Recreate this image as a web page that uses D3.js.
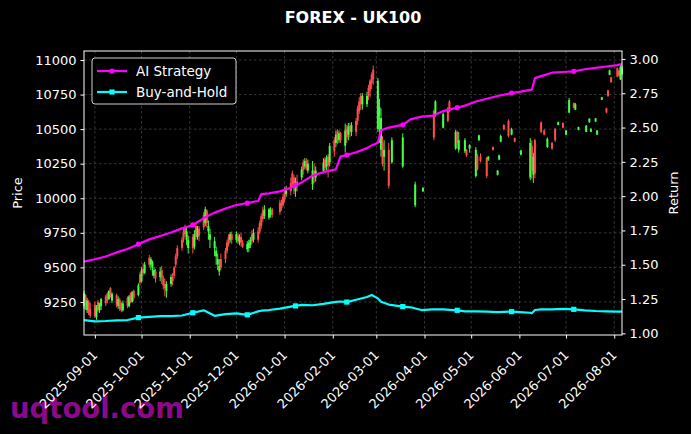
<!DOCTYPE html>
<html>
<head>
<meta charset="utf-8">
<script src="https://cdn.jsdelivr.net/npm/d3@7"></script>
<style>
  html, body { margin: 0; padding: 0; background: #000; }
  svg { display: block; font-family: 'DejaVu Sans', sans-serif; }
</style>
</head>
<body>
<svg id="chart"></svg>
<script>
// ---- data ----
const firstDay = '2025-08-25'
const lastDay = '2026-08-06'

// daily candles (weekdays), null = no bar drawn
const opens = [9220,9300,9190,9250,9200, 9230,9140,9250,9190,9220, 9290,9310,9270,9350,9260, 9300,9220,9265,9240,9190,
  9280,9220,9310,9250,9330, 9300,9450,9400,9490,9460, 9570,9520,9500,9440,9470, 9430,9480,9420,9380,9330,
  9380,9430,9500,9580,9640, 9700,9760,9790,9700,9640, 9720,9650,9800,9720,9780, 9880,9820,9910,9760,9700,
  9640,9580,9520,9470,9560, 9620,9680,9720,9700,9740, 9700,9730,9680,9720,9680, 9630,9640,9660,9740,9700,
  9760,9820,9870,9910,9870, 9860,9880,9920,null,null, 9970,9960,10010,10050,10030, 10110,10180,10150,10050,10120,
  10150,10260,10230,10270,10200, 10100,10200,10150,null,null, 10200,10280,10230,10300,10260, 10420,10400,10480,10420,10470,
  10380,10500,10460,10520,10480, 10560,10650,10700,10740,10680, 10680,10800,10850,10890,10930, 10500,10600,10350,10400,10300,
  10350,null,10260,null,null, null,null,10230,null,null, null,null,null,9950,null, null,10050,null,null,null,
  null,10630,10600,null,null, 10510,null,null,10650,10700, null,10360,10480,10350,null, 10340,10350,null,10360,null,
  10160,10310,10420,10300,null, 10290,10280,null,null,10370, 10170,10280,10410,null,10530, 10560,null,10460,null,10435,
  null,10315,null,null,null, 10150,10380,10170,10420,null, 10550,null,10490,null,10370, 10400,null,10500,null,10530,
  10545,null,10460,null,10620, 10690,10640,null,10495,null, null,10480,null,10550,10480, 10555,10460,null,null,10712,
  10650,10780,10892,10875,null, 10940,10920,10860,10900]
const highs = [9330,9305,9280,9265,9243, 9250,9228,9265,9243,9280, 9300,9320,9335,9357,9320, 9310,9290,9280,9250,9260,
  9290,9300,9320,9330,9340, 9385,9465,9500,9530,9540, 9590,9575,9550,9500,9490, 9500,9510,9440,9420,9400,
  9450,9460,9510,9600,9660, 9720,9780,9810,9790,9730, 9740,9770,9820,9800,9800, 9900,9940,9920,9840,9780,
  9720,9650,9600,9560,9600, 9640,9700,9740,9755,9760, 9760,9750,9740,9750,9700, 9690,9700,9720,9770,9780,
  9790,9840,9890,9940,9950, 9930,9935,9930,null,null, 9990,9990,10030,10080,10090, 10150,10200,10170,10150,10170,
  10230,10280,10290,10290,10280, 10270,10250,10230,null,null, 10290,10300,10310,10320,10400, 10440,10490,10500,10490,10480,
  10540,10530,10545,10545,10550, 10580,10670,10730,10760,10760, 10770,10820,10860,10910,10960, 10870,10720,10650,10450,10420,
  10400,null,10440,null,null, null,null,10470,null,null, null,null,null,10120,null, null,10080,null,null,null,
  null,10640,10710,null,null, 10620,null,null,10660,10711, null,10494,10490,10480,null, 10435,10355,null,10390,null,
  10370,10320,10460,10325,null, 10300,10305,null,null,10375, 10205,10315,10460,null,10535, 10570,null,10510,null,10440,
  null,10350,null,null,null, 10435,10420,10330,10430,null, 10555,null,10500,null,10440, 10407,null,10508,null,10555,
  10548,null,10494,null,10725, 10692,10690,null,10518,null, null,10530,null,10580,10508, 10580,10494,null,null,10733,
  10655,10785,10930,10878,null, 10945,10930,10965,10960]
const lows = [9200,9192,9170,9155,9134, 9135,9120,9178,9170,9192, 9220,9240,9265,9280,9243, 9210,9200,9185,9175,9180,
  9205,9210,9240,9245,9260, 9290,9370,9390,9440,9450, 9500,9480,9440,9420,9390, 9400,9380,9340,9290,9280,
  9360,9370,9420,9500,9560, 9620,9680,9720,9660,9600, 9600,9630,9700,9700,9690, 9770,9800,9790,9700,9640,
  9580,9520,9480,9440,9480, 9530,9600,9650,9680,9670, 9680,9670,9660,9650,9640, 9610,9610,9640,9670,9680,
  9680,9740,9780,9830,9850, 9845,9860,9860,null,null, 9880,9910,9940,9970,10010, 10020,10080,10030,10010,10050,
  10130,10170,10210,10200,10180, 10060,10110,10120,null,null, 10180,10190,10200,10150,10230, 10300,10370,10390,10400,10400,
  10330,10400,10420,10440,10450, 10450,10530,10610,10640,10640, 10660,10710,10730,10790,10820, 10480,10400,10300,10230,10200,
  10070,null,10250,null,null, null,null,10220,null,null, null,null,null,9935,null, null,10045,null,null,null,
  null,10420,10590,null,null, 10505,null,null,10550,10620, null,10350,10360,10330,null, 10327,10300,null,10330,null,
  10150,10200,10415,10260,null, 10145,10270,null,null,10345, 10165,10275,10405,null,10490, 10440,null,10455,null,10405,
  null,10310,null,null,null, 10130,10140,10110,10145,null, 10470,null,10455,null,10364, 10350,null,10407,null,10528,
  10505,null,10455,null,10615, 10650,10638,null,10492,null, null,10478,null,10545,10478, 10552,10458,null,null,10710,
  10615,10732,10890,10834,null, 10875,10880,10855,10890]
const closes = [9310,9220,9260,9170,9150, 9150,9210,9190,9240,9270, 9240,9260,9330,9300,9310, 9230,9270,9200,9190,9240,
  9220,9290,9250,9320,9280, 9370,9390,9480,9460,9520, 9520,9560,9540,9480,9420, 9470,9420,9370,9350,9380,
  9430,9400,9440,9520,9580, 9640,9700,9740,9760,9700, 9640,9740,9720,9780,9730, 9790,9920,9820,9800,9740,
  9690,9620,9560,9510,9500, 9560,9620,9670,9740,9700, 9740,9690,9720,9680,9650, 9670,9680,9700,9690,9750,
  9700,9760,9800,9850,9920, 9920,9910,9880,null,null, 9900,9930,9950,9990,10070, 10050,10100,10100,10120,10080,
  10210,10200,10270,10220,10250, 10200,10160,10200,null,null, 10260,10220,10290,10240,10380, 10340,10460,10420,10470,10420,
  10490,10440,10520,10480,10530, 10480,10560,10630,10680,10740, 10740,10740,10780,10830,10860, 10850,10660,10580,10250,10350,
  10090,null,10420,null,null, null,null,10440,null,null, null,null,null,10100,null, null,10075,null,null,null,
  null,10440,10700,null,null, 10610,null,null,10560,10630, null,10480,10400,10420,null, 10420,10310,null,10385,null,
  10350,10210,10455,10270,null, 10160,10300,null,null,10350, 10200,10310,10450,null,10500, 10450,null,10500,null,10410,
  null,10345,null,null,null, 10400,10200,10300,10180,null, 10480,null,10460,null,10430, 10360,null,10420,null,10550,
  10510,null,10490,null,10710, 10655,10680,null,10515,null, null,10525,null,10575,10500, 10578,10490,null,null,10730,
  10620,10740,10925,10840,null, 10880,10890,10950,10940]

// cumulative return lines
const lineDates = ['2025-08-25','2025-09-01','2025-09-08','2025-09-15','2025-09-22','2025-09-29','2025-10-06','2025-10-13',
  '2025-10-20','2025-10-27','2025-11-03','2025-11-10','2025-11-17','2025-11-24','2025-12-01','2025-12-08','2025-12-15',
  '2025-12-17','2025-12-22','2025-12-29','2026-01-05','2026-01-08','2026-01-12','2026-01-19','2026-01-26','2026-02-03',
  '2026-02-06','2026-02-10','2026-02-16','2026-02-23','2026-02-26','2026-03-02','2026-03-04','2026-03-09','2026-03-18',
  '2026-03-23','2026-03-30','2026-04-06','2026-04-13','2026-04-22','2026-04-27','2026-05-04','2026-05-11','2026-05-18',
  '2026-05-27','2026-06-01','2026-06-08','2026-06-09','2026-06-11','2026-06-15','2026-06-22','2026-06-29','2026-07-06',
  '2026-07-13','2026-07-20','2026-07-27','2026-08-03','2026-08-06']
const aiReturn = [1.523,1.54,1.56,1.59,1.615,1.65,1.685,1.71,
  1.735,1.765,1.79,1.84,1.88,1.91,1.935,1.95,1.965,
  2.015,2.02,2.035,2.06,2.08,2.10,2.15,2.175,2.195,
  2.29,2.30,2.32,2.35,2.37,2.39,2.48,2.50,2.52,
  2.56,2.58,2.585,2.62,2.645,2.66,2.69,2.71,2.73,
  2.752,2.76,2.775,2.776,2.86,2.875,2.90,2.905,2.91,
  2.925,2.935,2.945,2.955,2.963]
const holdReturn = [1.097,1.087,1.09,1.095,1.097,1.115,1.12,1.125,
  1.125,1.13,1.15,1.168,1.128,1.14,1.146,1.135,1.16,
  1.165,1.17,1.18,1.195,1.20,1.207,1.205,1.215,1.23,
  1.232,1.228,1.245,1.265,1.28,1.255,1.23,1.21,1.195,
  1.19,1.17,1.175,1.175,1.168,1.16,1.16,1.158,1.155,
  1.158,1.155,1.15,1.146,1.17,1.175,1.175,1.178,1.175,
  1.168,1.163,1.16,1.158,1.158]
const markerDates = ['2025-09-29','2025-11-03','2025-12-08','2026-01-08','2026-02-10','2026-03-18','2026-04-22','2026-05-27','2026-07-06']

const priceTicks = [9250, 9500, 9750, 10000, 10250, 10500, 10750, 11000]
const returnTicks = [1.00, 1.25, 1.50, 1.75, 2.00, 2.25, 2.50, 2.75, 3.00]
const monthTicks = ['2025-09-01','2025-10-01','2025-11-01','2025-12-01','2026-01-01','2026-02-01',
  '2026-03-01','2026-04-01','2026-05-01','2026-06-01','2026-07-01','2026-08-01']

// ---- drawing ----
const width = 691, height = 434
const margin = {top: 51, right: 69, bottom: 99, left: 84}
const parse = d3.utcParse('%Y-%m-%d')

const svg = d3.select('#chart')
    .attr('width', width)
    .attr('height', height)
    .style('background-color', '#000')

svg.append('rect').attr('width', width).attr('height', height).attr('fill', '#000')

// trading days on the x axis
const days = d3.utcDay.range(parse(firstDay), d3.utcDay.offset(parse(lastDay), 1))
    .filter(d => d.getUTCDay() !== 0 && d.getUTCDay() !== 6)

const candles = days.map((d, i) => ({date: d, o: opens[i], h: highs[i], l: lows[i], c: closes[i]}))
    .filter(d => d.o != null)

const x = d3.scaleUtc()
    .domain([parse(firstDay), parse(lastDay)])
    .range([margin.left, width - margin.right])

const y = d3.scaleLinear()
    .domain([9011, 11065])
    .range([height - margin.bottom, margin.top])

const y2 = d3.scaleLinear()
    .domain([0.988, 3.058])
    .range([height - margin.bottom, margin.top])

// watermark sits behind the tick labels
svg.append('text')
    .attr('x', 10)
    .attr('y', 418)
    .attr('fill', '#8a0a8a')
    .style('font-size', '27.5px')
    .style('font-weight', 'bold')
    .text('uqtool.com')

// grid
const grid = svg.append('g')
    .attr('stroke', '#5a5a5a')
    .attr('stroke-width', 0.6)
    .attr('stroke-dasharray', '2.5,2.5')
grid.selectAll('.gy')
    .data(priceTicks)
    .join('line')
        .attr('x1', margin.left).attr('x2', width - margin.right)
        .attr('y1', d => y(d)).attr('y2', d => y(d))
grid.selectAll('.gx')
    .data(monthTicks)
    .join('line')
        .attr('x1', d => x(parse(d))).attr('x2', d => x(parse(d)))
        .attr('y1', margin.top).attr('y2', height - margin.bottom)

// candles
const upColor = '#44ff44', downColor = '#ff4c4c'
const cg = svg.append('g')
cg.selectAll('line')
    .data(candles)
    .join('line')
        .attr('x1', d => x(d.date)).attr('x2', d => x(d.date))
        .attr('y1', d => y(d.h)).attr('y2', d => y(d.l))
        .attr('stroke', d => d.c >= d.o ? upColor : downColor)
        .attr('stroke-width', 1)
cg.selectAll('rect')
    .data(candles)
    .join('rect')
        .attr('x', d => x(d.date) - 1)
        .attr('width', 2)
        .attr('y', d => y(Math.max(d.o, d.c)))
        .attr('height', d => Math.max(0.8, Math.abs(y(d.o) - y(d.c))))
        .attr('fill', d => d.c >= d.o ? upColor : downColor)

// return lines
const series = [
    {name: 'AI Strategy', values: aiReturn, color: '#ff00ff', marker: 'circle'},
    {name: 'Buy-and-Hold', values: holdReturn, color: '#00ffff', marker: 'square'}
]
const line = d3.line()
    .x(d => x(d.date))
    .y(d => y2(d.v))

series.forEach(s => {
    const pts = lineDates.map((d, i) => ({date: parse(d), v: s.values[i], key: d}))
    svg.append('path')
        .datum(pts)
        .attr('fill', 'none')
        .attr('stroke', s.color)
        .attr('stroke-width', 2.2)
        .attr('stroke-linejoin', 'round')
        .attr('d', line)
    const marks = pts.filter(p => markerDates.includes(p.key))
    if (s.marker === 'circle') {
        svg.append('g').selectAll('circle')
            .data(marks)
            .join('circle')
                .attr('cx', d => x(d.date)).attr('cy', d => y2(d.v))
                .attr('r', 2.6)
                .attr('fill', s.color)
    } else {
        svg.append('g').selectAll('rect')
            .data(marks)
            .join('rect')
                .attr('x', d => x(d.date) - 2.6).attr('y', d => y2(d.v) - 2.6)
                .attr('width', 5.2).attr('height', 5.2)
                .attr('fill', s.color)
    }
})

// frame
svg.append('rect')
    .attr('x', margin.left).attr('y', margin.top)
    .attr('width', width - margin.right - margin.left)
    .attr('height', height - margin.bottom - margin.top)
    .attr('fill', 'none')
    .attr('stroke', '#fff')
    .attr('stroke-width', 1)

// axes
const styleAxis = g => {
    g.select('.domain').remove()
    g.selectAll('.tick line').attr('stroke', '#fff')
    g.selectAll('.tick text').attr('fill', '#fff').style('font-size', '13px')
        .style('font-family', "'DejaVu Sans', sans-serif")
}

svg.append('g')
    .attr('transform', `translate(${margin.left},0)`)
    .call(d3.axisLeft(y).tickValues(priceTicks).tickFormat(d3.format('d')).tickSize(3.5).tickPadding(4))
    .call(styleAxis)

svg.append('g')
    .attr('transform', `translate(${width - margin.right},0)`)
    .call(d3.axisRight(y2).tickValues(returnTicks).tickFormat(d3.format('.2f')).tickSize(3.5).tickPadding(4))
    .call(styleAxis)

const gx = svg.append('g')
    .attr('transform', `translate(0,${height - margin.bottom})`)
    .call(d3.axisBottom(x).tickValues(monthTicks.map(parse)).tickFormat(d3.utcFormat('%Y-%m-%d')).tickSize(3.5))
    .call(styleAxis)
gx.selectAll('.tick text')
    .attr('text-anchor', 'end')
    .attr('dy', null)
    .attr('y', 0)
    .attr('transform', 'translate(3,21) rotate(-45)')

// labels
svg.append('text')
    .attr('transform', `translate(22,${(margin.top + height - margin.bottom) / 2}) rotate(-90)`)
    .attr('text-anchor', 'middle')
    .attr('fill', '#fff')
    .style('font-size', '13px')
    .text('Price')

svg.append('text')
    .attr('transform', `translate(678,${(margin.top + height - margin.bottom) / 2}) rotate(-90)`)
    .attr('text-anchor', 'middle')
    .attr('fill', '#fff')
    .style('font-size', '13px')
    .text('Return')

svg.append('text')
    .attr('x', (margin.left + width - margin.right) / 2)
    .attr('y', 23)
    .attr('text-anchor', 'middle')
    .attr('fill', '#fff')
    .style('font-size', '16px')
    .style('font-weight', 'bold')
    .text('FOREX - UK100')

// legend
const legend = svg.append('g').attr('transform', 'translate(92,58)')
legend.append('rect')
    .attr('width', 144).attr('height', 46)
    .attr('rx', 3)
    .attr('fill', '#000')
    .attr('stroke', '#cfcfcf')
    .attr('stroke-width', 1)
series.forEach((s, i) => {
    const row = legend.append('g').attr('transform', `translate(0,${13 + i * 21})`)
    row.append('line')
        .attr('x1', 5).attr('x2', 35)
        .attr('stroke', s.color).attr('stroke-width', 2.2)
    if (s.marker === 'circle') {
        row.append('circle').attr('cx', 20).attr('r', 2.6).attr('fill', s.color)
    } else {
        row.append('rect').attr('x', 17.4).attr('y', -2.6).attr('width', 5.2).attr('height', 5.2).attr('fill', s.color)
    }
    row.append('text')
        .attr('x', 44).attr('dy', '0.35em')
        .attr('fill', '#fff')
        .style('font-size', '13.5px')
        .text(s.name)
})
</script>
</body>
</html>
